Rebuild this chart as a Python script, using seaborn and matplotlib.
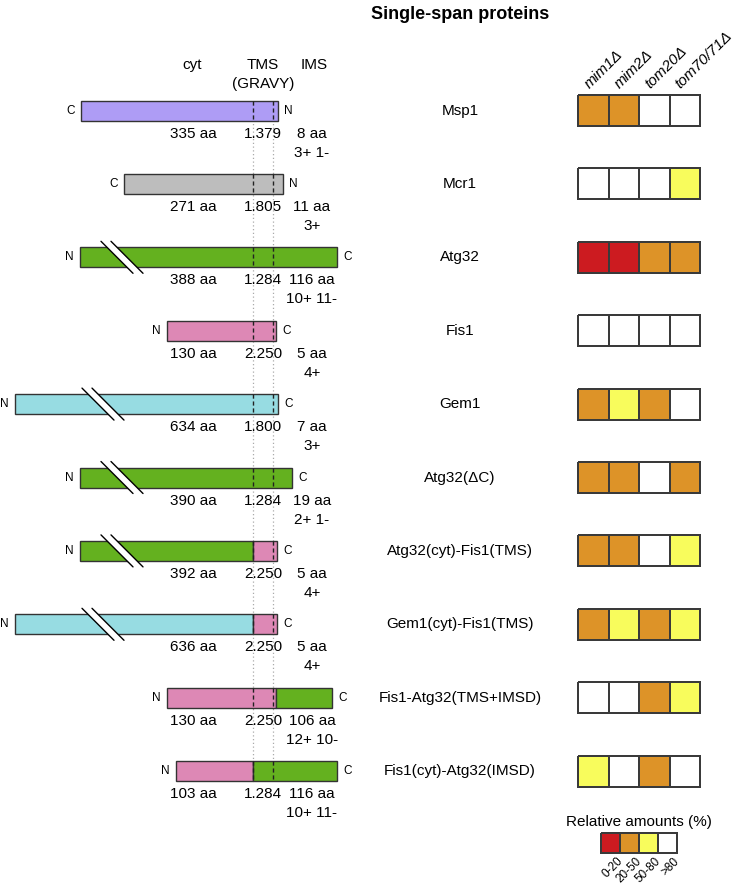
import numpy as np
import matplotlib
matplotlib.use("Agg")
import matplotlib.pyplot as plt
from matplotlib.colors import ListedColormap
import seaborn as sns

# protein constructs (top to bottom)
proteins = ["Msp1", "Mcr1", "Atg32", "Fis1", "Gem1", "Atg32(\u0394C)",
            "Atg32(cyt)-Fis1(TMS)", "Gem1(cyt)-Fis1(TMS)",
            "Fis1-Atg32(TMS+IMSD)", "Fis1(cyt)-Atg32(IMSD)"]
cyt_aa = [335, 271, 388, 130, 634, 390, 392, 636, 130, 103]
gravy = [1.379, 1.805, 1.284, 2.250, 1.800, 1.284, 2.250, 2.250, 2.250, 1.284]
ims_aa = [8, 11, 116, 5, 7, 19, 5, 5, 106, 116]
charges = ["3+ 1-", "3+", "10+ 11-", "4+", "3+", "2+ 1-", "4+", "4+", "12+ 10-", "10+ 11-"]
left_term = ["C", "C", "N", "N", "N", "N", "N", "N", "N", "N"]
right_term = ["N", "N", "C", "C", "C", "C", "C", "C", "C", "C"]

# schematic (drawn) lengths of the cytosolic and IMS parts
cyt_drawn = [172, 129, 173, 86, 238, 173, 173, 238, 86, 77]
ims_drawn = [5, 10, 64, 3, 5, 19, 4, 4, 59, 64]
# domain colours: cytosolic part / C-terminal part, and where the colour changes
col_a = ["purple", "grey", "green", "pink", "cyan", "green", "green", "cyan", "pink", "pink"]
col_b = ["purple", "grey", "green", "pink", "cyan", "green", "pink", "pink", "green", "green"]
switch_at = [0, 0, 0, 0, 0, 0, 0, 0, 23, 0]
# axis break in long cytosolic domains (distance from N-terminus)
break_at = [None, None, 21, None, 67, 21, 21, 67, None, None]

# relative amounts per deletion strain: 0 = 0-20, 1 = 20-50, 2 = 50-80, 3 = >80
strains = ["mim1\u0394", "mim2\u0394", "tom20\u0394", "tom70/71\u0394"]
levels = [
    [1, 1, 3, 3],
    [3, 3, 3, 2],
    [0, 0, 1, 1],
    [3, 3, 3, 3],
    [1, 2, 1, 3],
    [1, 1, 3, 1],
    [1, 1, 3, 2],
    [1, 2, 1, 2],
    [3, 3, 1, 2],
    [2, 3, 1, 3],
]
level_labels = ["0-20", "20-50", "50-80", ">80"]

palette = {"purple": "#ae9cf5", "grey": "#bdbdbd", "green": "#64b11f",
           "pink": "#dd88b5", "cyan": "#97dce2"}
heat_colors = ["#cc1b20", "#dd9328", "#f8fc5c", "#ffffff"]
EDGE = "#333333"

# layout (pixels)
W, H = 736, 886
ROW0, STEP, BAR_H = 110.5, 73.4, 20
TMS_X, TMS_W = 253, 20
HM_LEFT, CELL_W, CELL_H = 578, 30.5, 31

sns.set_style("white")
plt.rcParams["font.family"] = ["Liberation Sans", "DejaVu Sans"]
plt.rcParams["text.color"] = "black"

fig = plt.figure(figsize=(W / 100, H / 100), dpi=100)
ax = fig.add_axes([0, 0, 1, 1])
ax.set_xlim(0, W)
ax.set_ylim(H, 0)
ax.axis("off")

n = len(proteins)
ys = [ROW0 + i * STEP for i in range(n)]

# guide lines for the TMS
ax.vlines([TMS_X, TMS_X + TMS_W], ys[0] - BAR_H / 2, ys[-1] + BAR_H / 2,
          colors="#aaaaaa", linestyles=(0, (1, 2)), lw=0.9, zorder=1)

ax.text(460, 14, "Single-span proteins", ha="center", va="center",
        fontsize=13, fontweight="bold")
ax.text(192, 65, "cyt", ha="center", va="center", fontsize=11)
ax.text(TMS_X + TMS_W / 2, 65, "TMS", ha="center", va="center", fontsize=11)
ax.text(TMS_X + TMS_W / 2, 84, "(GRAVY)", ha="center", va="center", fontsize=11)
ax.text(314, 65, "IMS", ha="center", va="center", fontsize=11)

cmap = ListedColormap(heat_colors)

for i in range(n):
    y = ys[i]
    left = TMS_X - cyt_drawn[i]
    right = TMS_X + TMS_W + ims_drawn[i]
    if col_a[i] == col_b[i]:
        ax.barh(y, right - left, left=left, height=BAR_H, color=palette[col_a[i]],
                edgecolor=EDGE, lw=1, zorder=2)
    else:
        sw = TMS_X + switch_at[i]
        ax.barh(y, sw - left, left=left, height=BAR_H, color=palette[col_a[i]],
                edgecolor=EDGE, lw=1, zorder=2)
        ax.barh(y, right - sw, left=sw, height=BAR_H, color=palette[col_b[i]],
                edgecolor=EDGE, lw=1, zorder=2)

    # TMS boundaries inside the bar
    ax.vlines([TMS_X, TMS_X + TMS_W], y - BAR_H / 2, y + BAR_H / 2,
              colors="#222222", linestyles=(0, (3, 2)), lw=1, zorder=3)

    # break symbol
    if break_at[i] is not None:
        bx = left + break_at[i]
        ax.fill([bx, bx + 10, bx + 42, bx + 32], [y - 16, y - 16, y + 16, y + 16],
                color="white", lw=0, zorder=4)
        ax.plot([bx, bx + 32], [y - 16, y + 16], color="black", lw=1, zorder=5)
        ax.plot([bx + 10, bx + 42], [y - 16, y + 16], color="black", lw=1, zorder=5)

    ax.text(left - 6, y, left_term[i], ha="right", va="center", fontsize=8.5)
    ax.text(right + 6, y, right_term[i], ha="left", va="center", fontsize=8.5)
    ax.text(193, y + 23, f"{cyt_aa[i]} aa", ha="center", va="center", fontsize=11)
    ax.text(TMS_X + 10, y + 23, f"{gravy[i]:.3f}", ha="center", va="center", fontsize=11)
    ax.text(312, y + 23, f"{ims_aa[i]} aa", ha="center", va="center", fontsize=11)
    ax.text(312, y + 42, charges[i], ha="center", va="center", fontsize=11)
    ax.text(460, y, proteins[i], ha="center", va="center", fontsize=11)

    # heatmap row
    hax = fig.add_axes([HM_LEFT / W, 1 - (y + CELL_H / 2) / H, 4 * CELL_W / W, CELL_H / H])
    sns.heatmap(np.array([levels[i]]), ax=hax, cmap=cmap, vmin=-0.5, vmax=3.5,
                cbar=False, linewidths=1.4, linecolor="#3a3a3a",
                xticklabels=False, yticklabels=False)
    hax.collections[0].set_clip_on(False)

# strain labels
for j, s in enumerate(strains):
    ax.text(HM_LEFT + (j + 0.5) * CELL_W - 4, 89, s, rotation=45, ha="left",
            va="baseline", rotation_mode="anchor", style="italic", fontsize=11)

# colour legend
LEG_LEFT, LEG_W, LEG_TOP, LEG_H = 601, 19, 833, 20
ax.text(639, 822, "Relative amounts (%)", ha="center", va="center", fontsize=11)
lax = fig.add_axes([LEG_LEFT / W, 1 - (LEG_TOP + LEG_H) / H, 4 * LEG_W / W, LEG_H / H])
sns.heatmap(np.array([list(range(len(level_labels)))]), ax=lax, cmap=cmap,
            vmin=-0.5, vmax=3.5, cbar=False, linewidths=1.4, linecolor="#3a3a3a",
            xticklabels=False, yticklabels=False)
lax.collections[0].set_clip_on(False)
for k, lab in enumerate(level_labels):
    ax.text(LEG_LEFT + (k + 0.5) * LEG_W + 6, 855, lab, rotation=45, ha="right",
            va="top", rotation_mode="anchor", fontsize=8.5)

fig.savefig("out.png", dpi=100)
plt.close(fig)
